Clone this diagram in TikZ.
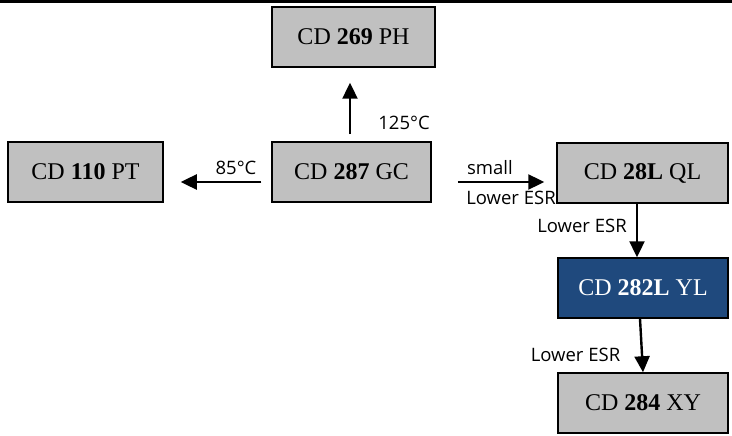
\documentclass[tikz,border=0pt]{standalone}
\usepackage{fontspec}
\setmainfont{Liberation Serif}
\newfontfamily\labelfont{Open Sans}
\usetikzlibrary{arrows.meta}
\definecolor{BoxGray}{HTML}{C0C0C0}
\definecolor{BoxBlue}{HTML}{1F497D}

\begin{document}
\begin{tikzpicture}[x=1pt,y=-1pt,
  box/.style={draw=black,line width=1.5pt,fill=BoxGray,inner sep=0pt,
    minimum height=60pt,font=\fontsize{24}{26}\selectfont},
  arr/.style={line width=2.4pt,-{Triangle[length=16pt,width=15pt]}},
  lbl/.style={inner sep=0pt,font=\labelfont\fontsize{18.5}{21}\selectfont}]
 \useasboundingbox (0,0) rectangle (732,436);
 \draw[line width=2.5pt] (0,1.5) -- (732,1.5);
 % boxes
 \node[box,minimum width=163pt] (ph) at (353.5,37) {CD \textbf{269} PH};
 \node[box,minimum width=159pt] (gc) at (351.5,172) {CD \textbf{287} GC};
 \node[box,minimum width=155pt] (pt) at (85.5,172) {CD \textbf{110} PT};
 \node[box,minimum width=171pt] (ql) at (642.5,173) {CD \textbf{28L} QL};
 \node[box,minimum width=170pt,fill=BoxBlue,text=white] (yl) at (643,288) {CD \textbf{282L} YL};
 \node[box,minimum width=170pt] (xy) at (643,403) {CD \textbf{284} XY};
 % arrows
 \draw[arr,shorten <=7pt,shorten >=15pt] ([xshift=-1.5pt]gc.north) -- ([xshift=-3.5pt]ph.south);
 \draw[arr,shorten <=10pt,shorten >=17pt] ([yshift=-10pt]gc.west) -- ([yshift=-10pt]pt.east);
 \draw[arr,shorten <=26pt,shorten >=12pt] ([yshift=-10pt]gc.east) -- ([yshift=-9pt]ql.west);
 \draw[arr] ([xshift=-5.5pt]ql.south) -- ([xshift=-6pt]yl.north);
 \draw[arr] ([xshift=-3pt]yl.south) -- ([xshift=0pt]xy.north);
 % labels
 \node[lbl] (t125) at (404,122.5) {125°C};
 \node[lbl] (t85) at (236,167.5) {85°C};
 \node[lbl] (tsmall) at (490,168) {small};
 \node[lbl] (tesr1) at (511,198) {Lower ESR};
 \node[lbl] (tesr2) at (582,225.5) {Lower ESR};
 \node[lbl] (tesr3) at (575.5,355) {Lower ESR};
\end{tikzpicture}
\end{document}
